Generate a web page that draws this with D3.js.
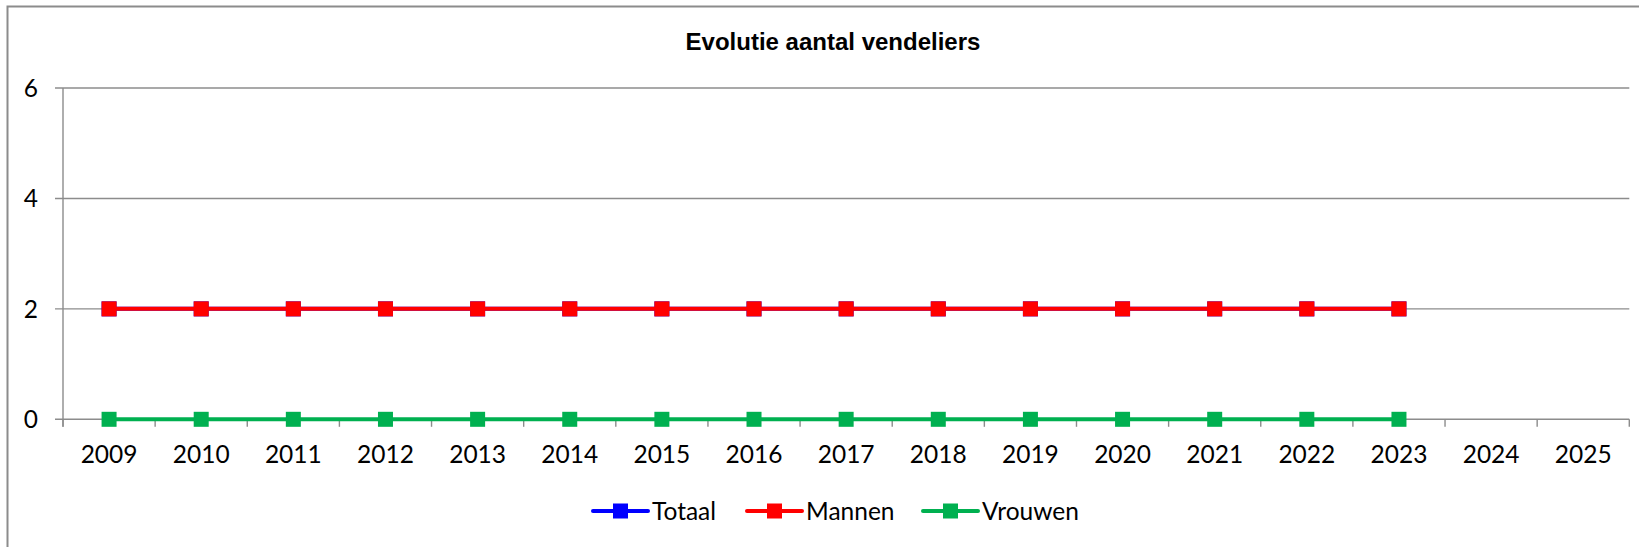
<!DOCTYPE html>
<html>
<head>
<meta charset="utf-8">
<script src="https://cdn.jsdelivr.net/npm/d3@7"></script>
<style>
  html, body { margin: 0; padding: 0; background: #fff; }
  svg { display: block; }
  text { font-family: Lato, "Open Sans", sans-serif; fill: #000; }
</style>
</head>
<body>
<div id="chart"></div>
<script>
// --- data ---
const years = ["2009", "2010", "2011", "2012", "2013", "2014", "2015", "2016", "2017",
  "2018", "2019", "2020", "2021", "2022", "2023", "2024", "2025"];
const totaal  = [2, 2, 2, 2, 2, 2, 2, 2, 2, 2, 2, 2, 2, 2, 2];
const mannen  = [2, 2, 2, 2, 2, 2, 2, 2, 2, 2, 2, 2, 2, 2, 2];
const vrouwen = [0, 0, 0, 0, 0, 0, 0, 0, 0, 0, 0, 0, 0, 0, 0];
const yTicks = [0, 2, 4, 6];

const series = [
  { name: "Totaal",  values: totaal,  color: "#0000ff" },
  { name: "Mannen",  values: mannen,  color: "#ff0000" },
  { name: "Vrouwen", values: vrouwen, color: "#00b050" }
];

const W = 1639, H = 547;
const gridColor = "#8c8c8c";
const fontSize = "24.5px";

const svg = d3.select("#chart").append("svg")
  .attr("width", W)
  .attr("height", H);

// outer chart border (right/bottom fall outside the picture)
svg.append("rect")
  .attr("x", 7.5).attr("y", 6.5)
  .attr("width", W + 20).attr("height", H + 20)
  .attr("fill", "white")
  .attr("stroke", gridColor)
  .attr("stroke-width", 2);

const x = d3.scaleBand().domain(years).range([63, 1629.3]).padding(0);
const y = d3.scaleLinear().domain([0, 6]).range([419.3, 88]);

// title
svg.append("text")
  .attr("x", 833).attr("y", 49.5)
  .attr("text-anchor", "middle")
  .style("font-family", "'Liberation Sans', Arial, sans-serif")
  .style("font-weight", "bold")
  .style("font-size", "24px")
  .text("Evolutie aantal vendeliers");

// gridlines
svg.append("g")
  .selectAll("line")
  .data(yTicks)
  .join("line")
  .attr("x1", 55).attr("x2", x.range()[1])
  .attr("y1", d => y(d)).attr("y2", d => y(d))
  .attr("stroke", gridColor)
  .attr("stroke-width", 1.4);

// y axis line
svg.append("line")
  .attr("x1", 63).attr("x2", 63)
  .attr("y1", y(6)).attr("y2", y(0) + 7.5)
  .attr("stroke", gridColor)
  .attr("stroke-width", 1.4);

// y labels
svg.append("g")
  .selectAll("text")
  .data(yTicks)
  .join("text")
  .attr("x", 38).attr("y", d => y(d))
  .attr("dy", "0.36em")
  .attr("text-anchor", "end")
  .style("font-size", fontSize)
  .text(d => d);

// x ticks at category boundaries
const bounds = years.map(d => x(d)).concat([x.range()[1]]);
svg.append("g")
  .selectAll("line")
  .data(bounds)
  .join("line")
  .attr("x1", d => d).attr("x2", d => d)
  .attr("y1", y(0)).attr("y2", y(0) + 7.5)
  .attr("stroke", gridColor)
  .attr("stroke-width", 1.4);

// x labels
svg.append("g")
  .selectAll("text")
  .data(years)
  .join("text")
  .attr("x", d => x(d) + x.bandwidth() / 2)
  .attr("y", 462.5)
  .attr("text-anchor", "middle")
  .style("font-size", fontSize)
  .text(d => d);

// lines + markers
const line = d3.line()
  .x((d, i) => x(years[i]) + x.bandwidth() / 2)
  .y(d => y(d));

const ms = 15;
series.forEach(s => {
  svg.append("path")
    .datum(s.values)
    .attr("d", line)
    .attr("fill", "none")
    .attr("stroke", s.color)
    .attr("stroke-width", 4)
    .attr("stroke-linejoin", "round");

  svg.append("g")
    .selectAll("rect")
    .data(s.values)
    .join("rect")
    .attr("x", (d, i) => x(years[i]) + x.bandwidth() / 2 - ms / 2)
    .attr("y", d => y(d) - ms / 2)
    .attr("width", ms).attr("height", ms)
    .attr("fill", s.color);
});

// legend
const legendX = [593, 747, 923];
const legendY = 511;
const leg = svg.append("g")
  .selectAll("g")
  .data(series)
  .join("g")
  .attr("transform", (d, i) => `translate(${legendX[i]},${legendY})`);

leg.append("line")
  .attr("x1", 0).attr("x2", 55)
  .attr("y1", 0).attr("y2", 0)
  .attr("stroke", d => d.color)
  .attr("stroke-width", 4)
  .attr("stroke-linecap", "round");

leg.append("rect")
  .attr("x", 27.5 - ms / 2).attr("y", -ms / 2)
  .attr("width", ms).attr("height", ms)
  .attr("fill", d => d.color);

leg.append("text")
  .attr("x", 59).attr("y", 0)
  .attr("dy", "0.36em")
  .style("font-size", fontSize)
  .text(d => d.name);
</script>
</body>
</html>
